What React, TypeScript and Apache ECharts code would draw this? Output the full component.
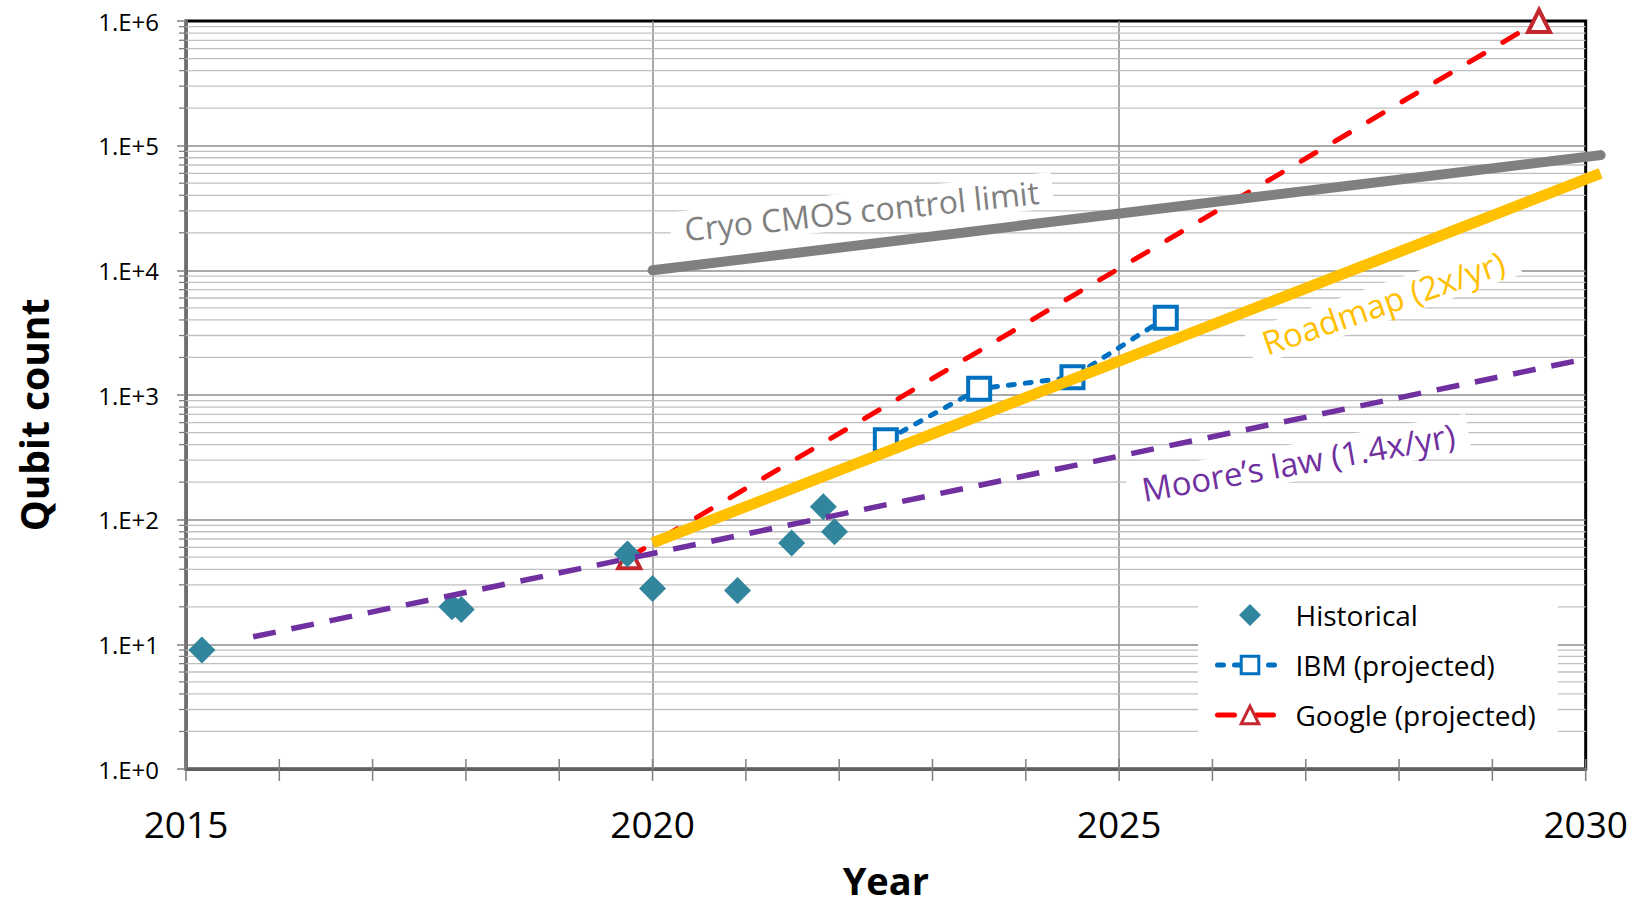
import React, { useEffect, useRef } from 'react';
import * as echarts from 'echarts';

// ---- data ----
const historicalYears = [2015.17, 2017.85, 2017.95, 2019.73, 2020.0, 2020.91, 2021.49, 2021.83, 2021.95];
const historicalQubits = [9, 20, 19, 53, 28, 27, 65, 127, 80];

const ibmYears = [2022.5, 2023.5, 2024.5, 2025.5];
const ibmQubits = [433, 1121, 1386, 4158];

const googleYears = [2019.75, 2029.5];
const googleQubits = [50, 1000000];

const cryoYears = [2020, 2030.16];
const cryoQubits = [10000, 84000];

const roadmapYears = [2020, 2030.16];
const roadmapQubits = [65, 60000];

const mooreYears = [2015.72, 2030];
const mooreQubits = [11.5, 1950];

const xTickYears = [2015, 2016, 2017, 2018, 2019, 2020, 2021, 2022, 2023, 2024, 2025, 2026, 2027, 2028, 2029, 2030];
const yDecades = [1, 10, 100, 1000, 10000, 100000];
const yMinorSteps = [2, 3, 4, 5, 6, 7, 8, 9];

const annotationTexts = ['Cryo CMOS control limit', 'Roadmap (2x/yr)', 'Moore\u2019s law (1.4x/yr)'];
const annotationYears = [2022.24, 2027.83, 2026.92];
const annotationQubits = [30400, 5510, 290];

// ---- styles ----
const FONT = '"Open Sans", "Liberation Sans", sans-serif';
const annotationColors = ['#808080', '#FFC000', '#7030A0'];
const annotationSizes = [32, 33, 33];
const annotationAngles = [6, 19, 10];

const zip = (xs: number[], ys: number[]) => xs.map((x, i) => [x, ys[i]]);

// a straight shape line drawn through the chart's own scales, not clipped at the plot edge
const shapeLine = (name: string, xs: number[], ys: number[], stroke: string, width: number, cap: string) => ({
  type: 'custom',
  name,
  silent: true,
  z: 4,
  clip: false,
  data: zip(xs, ys),
  encode: { x: 0, y: 1 },
  renderItem: (params: any, api: any) => {
    const i = params.dataIndex;
    if (i >= xs.length - 1) return null;
    const p0 = api.coord([xs[i], ys[i]]);
    const p1 = api.coord([xs[i + 1], ys[i + 1]]);
    return {
      type: 'line',
      shape: { x1: p0[0], y1: p0[1], x2: p1[0], y2: p1[1] },
      style: { stroke, lineWidth: width, lineCap: cap },
    };
  },
});

export default function App() {
  const ref = useRef<HTMLDivElement>(null);

  useEffect(() => {
    const chart = echarts.init(ref.current!, null, { renderer: 'svg' });

    const minorGridData: number[][] = [];
    yDecades.forEach((d) => yMinorSteps.forEach((m) => minorGridData.push([2015, d * m])));
    const yearTickData = xTickYears.map((y) => [y, 1]);

    chart.setOption({
      animation: false,
      backgroundColor: '#ffffff',
      grid: {
        left: 186,
        right: 42,
        top: 21,
        bottom: 137,
        show: true,
        borderColor: '#000000',
        borderWidth: 3,
        backgroundColor: 'transparent',
      },
      xAxis: {
        type: 'value',
        min: 2015,
        max: 2030,
        interval: 5,
        name: 'Year',
        nameLocation: 'middle',
        nameGap: 92,
        nameTextStyle: { fontFamily: FONT, fontSize: 38, fontWeight: 'bold', color: '#000', lineHeight: 38 },
        axisLine: { onZero: false, lineStyle: { color: '#606060', width: 3 } },
        axisTick: { show: false },
        axisLabel: {
          fontFamily: FONT,
          fontSize: 37,
          color: '#000',
          margin: 36,
          formatter: (v: number) => String(Math.round(v)),
        },
        splitLine: { show: true, showMinLine: false, showMaxLine: false, lineStyle: { color: '#8c8c8c', width: 1.5 } },
      },
      yAxis: {
        type: 'log',
        logBase: 10,
        min: 1,
        max: 1000000,
        interval: 1,
        name: 'Qubit count',
        nameLocation: 'middle',
        nameRotate: 90,
        nameGap: 133,
        nameTextStyle: { fontFamily: FONT, fontSize: 39, fontWeight: 'bold', color: '#000', padding: [0, 40, 0, 0] },
        axisLine: { show: true, lineStyle: { color: '#6f6f6f', width: 3 } },
        axisTick: { show: true, length: 9, lineStyle: { color: '#7f7f7f', width: 1.5 } },
        axisLabel: {
          fontFamily: FONT,
          fontSize: 24,
          color: '#000',
          margin: 27,
          formatter: (v: number) => '1.E+' + Math.round(Math.log10(v)),
        },
        splitLine: { show: true, showMinLine: false, showMaxLine: false, lineStyle: { color: '#8c8c8c', width: 1.5 } },
      },
      legend: {
        data: [
          { name: 'Historical', icon: 'path://M10,0L20,10L10,20L0,10Z' },
          { name: 'IBM (projected)', itemStyle: { borderWidth: 3 }, lineStyle: { width: 5 } },
          { name: 'Google (projected)', itemStyle: { borderWidth: 3 }, lineStyle: { width: 5 } },
        ],
        orient: 'vertical',
        left: 1198,
        top: 594,
        padding: [6, 22, 8, 17],
        backgroundColor: '#ffffff',
        itemWidth: 65,
        itemHeight: 22,
        itemGap: 20,
        symbolKeepAspect: true,
        selectedMode: false,
        z: 20,
        textStyle: { fontFamily: FONT, fontSize: 28, color: '#000', lineHeight: 30, padding: [0, 0, 0, 8] },
      },
      series: [
        {
          type: 'custom',
          name: 'minorGrid',
          silent: true,
          z: 1,
          clip: false,
          data: minorGridData,
          encode: { x: 0, y: 1 },
          renderItem: (params: any, api: any) => {
            const cs = params.coordSys;
            const y = api.coord([api.value(0), api.value(1)])[1];
            return {
              type: 'group',
              children: [
                { type: 'line', shape: { x1: cs.x, y1: y, x2: cs.x + cs.width, y2: y }, style: { stroke: '#c0c0c0', lineWidth: 1.3 } },
                { type: 'line', shape: { x1: cs.x - 7, y1: y, x2: cs.x, y2: y }, style: { stroke: '#7f7f7f', lineWidth: 1.3 } },
              ],
            };
          },
        },
        {
          type: 'custom',
          name: 'yearTicks',
          silent: true,
          z: 6,
          clip: false,
          data: yearTickData,
          encode: { x: 0, y: 1 },
          renderItem: (params: any, api: any) => {
            const p = api.coord([api.value(0), api.value(1)]);
            return {
              type: 'line',
              shape: { x1: p[0], y1: p[1] - 10, x2: p[0], y2: p[1] + 12 },
              style: { stroke: '#7f7f7f', lineWidth: 1.5 },
            };
          },
        },
        {
          type: 'line',
          name: 'Google (projected)',
          z: 2,
          data: zip(googleYears, googleQubits),
          symbol: 'triangle',
          symbolSize: 22,
          showAllSymbol: true,
          itemStyle: { color: '#ffffff', borderColor: '#C3282E', borderWidth: 4 },
          lineStyle: { color: '#FF0000', width: 5, type: [17, 22], cap: 'round' },
        },
        {
          type: 'line',
          name: 'IBM (projected)',
          z: 2,
          data: zip(ibmYears, ibmQubits),
          symbol: 'rect',
          symbolSize: 22,
          showAllSymbol: true,
          itemStyle: { color: '#ffffff', borderColor: '#0070C0', borderWidth: 4 },
          lineStyle: { color: '#0070C0', width: 5, type: [6, 11], cap: 'round' },
        },
        {
          type: 'scatter',
          name: 'Historical',
          z: 3,
          data: zip(historicalYears, historicalQubits),
          symbol: 'diamond',
          symbolSize: 27,
          itemStyle: { color: '#31859C', opacity: 1 },
        },
        shapeLine('Cryo CMOS control limit', cryoYears, cryoQubits, '#808080', 10, 'round'),
        shapeLine('Roadmap (2x/yr)', roadmapYears, roadmapQubits, '#FFC000', 11, 'butt'),
        {
          type: 'line',
          name: 'Moore\u2019s law (1.4x/yr)',
          z: 4,
          data: zip(mooreYears, mooreQubits),
          symbol: 'none',
          lineStyle: { color: '#7030A0', width: 5.5, type: [23, 16] },
        },
      ],
    });

    const graphics = annotationTexts.map((t, i) => {
      const p = chart.convertToPixel({ gridIndex: 0 }, [annotationYears[i], annotationQubits[i]]) as number[];
      return {
        type: 'text',
        x: p[0],
        y: p[1],
        rotation: (annotationAngles[i] * Math.PI) / 180,
        z: 10,
        silent: true,
        style: {
          text: t,
          fill: annotationColors[i],
          fontFamily: FONT,
          fontSize: annotationSizes[i],
          align: 'center',
          verticalAlign: 'middle',
          backgroundColor: '#ffffff',
          padding: [2, 14],
        },
      };
    });
    chart.setOption({ graphic: graphics });

    return () => chart.dispose();
  }, []);

  return (
    <div
      ref={ref}
      style={{ position: 'absolute', left: 0, top: 0, width: 1631, height: 906 }}
    />
  );
}
